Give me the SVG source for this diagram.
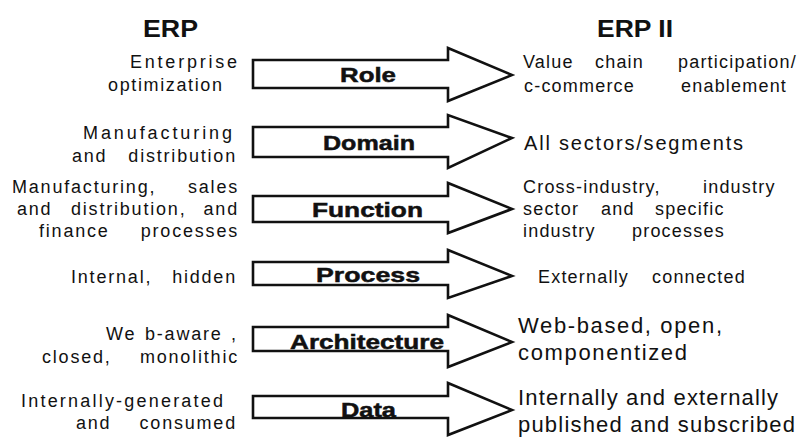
<svg xmlns="http://www.w3.org/2000/svg" width="803" height="437" viewBox="0 0 803 437">
<defs>
<style>
.bg{fill:#fff}
.arrow{fill:#fff;stroke:#111;stroke-width:2.6;stroke-linejoin:miter}
.lbl{font-family:"Liberation Sans",Arial,sans-serif;font-weight:bold;font-size:21px;fill:#111;stroke:#111;stroke-width:0.5}
.hdr{font-family:"Liberation Sans",Arial,sans-serif;font-weight:bold;font-size:23px;fill:#111}
.t{font-family:"Liberation Sans",Arial,sans-serif;font-size:18px;fill:#111}
.l{letter-spacing:1.8px}
.r{letter-spacing:1.2px}
.e{text-anchor:end}
.t2{font-family:"Liberation Sans",Arial,sans-serif;font-size:20px;fill:#111}
.t3{font-family:"Liberation Sans",Arial,sans-serif;font-size:22px;fill:#111}
</style>
</defs>
<rect class="bg" x="0" y="0" width="803" height="437"/>
<g id="headers">
<text class="hdr" x="143" y="37" textLength="55" lengthAdjust="spacingAndGlyphs">ERP</text>
<text class="hdr" x="597" y="37" textLength="76" lengthAdjust="spacingAndGlyphs">ERP II</text>
</g>
<g id="connectors">
<polygon class="arrow" points="253,60 448,60 448,48 512,75 448,101 448,88 253,88"/>
<polygon class="arrow" points="253,127 448,127 448,115 512,138 448,168 448,157 253,157"/>
<polygon class="arrow" points="253,196 448,196 448,183 512,209 448,233 448,222 253,222"/>
<polygon class="arrow" points="253,262 448,262 448,250 512,276 448,298 448,285 253,285"/>
<polygon class="arrow" points="253,327 448,327 448,315 512,342 448,367 448,351 253,351"/>
<polygon class="arrow" points="253,396 448,396 448,383 512,410 448,435 448,418 253,418"/>
</g>
<g id="node-role">
<text class="t" x="130" y="68" textLength="107" lengthAdjust="spacing">Enterprise</text>
<text class="t" x="108" y="91" textLength="114" lengthAdjust="spacing">optimization</text>
<text class="lbl" x="340" y="82" textLength="56" lengthAdjust="spacingAndGlyphs">Role</text>
<text class="t r" y="68"><tspan x="523">Value</tspan> <tspan x="595">chain</tspan> <tspan x="678">participation/</tspan></text>
<text class="t r" y="92"><tspan x="524">c-commerce</tspan> <tspan x="681">enablement</tspan></text>
</g>
<g id="node-domain">
<text class="t" x="83" y="139" textLength="149" lengthAdjust="spacing">Manufacturing</text>
<text class="t l" y="162"><tspan x="72">and</tspan> <tspan class="e" x="237">distribution</tspan></text>
<text class="lbl" x="323" y="150" textLength="92" lengthAdjust="spacingAndGlyphs">Domain</text>
<text class="t2" x="524" y="150" textLength="219" lengthAdjust="spacing">All sectors/segments</text>
</g>
<g id="node-function">
<text class="t l" y="193"><tspan x="12">Manufacturing,</tspan> <tspan class="e" x="239">sales</tspan></text>
<text class="t l" y="215"><tspan x="17">and</tspan> <tspan x="71">distribution,</tspan> <tspan class="e" x="239">and</tspan></text>
<text class="t l" y="237"><tspan x="39">finance</tspan> <tspan class="e" x="239">processes</tspan></text>
<text class="lbl" x="312" y="217" textLength="111" lengthAdjust="spacingAndGlyphs">Function</text>
<text class="t r" y="193"><tspan x="523">Cross-industry,</tspan> <tspan x="703">industry</tspan></text>
<text class="t r" y="215"><tspan x="523">sector</tspan> <tspan x="601">and</tspan> <tspan x="655">specific</tspan></text>
<text class="t r" y="237"><tspan x="523">industry</tspan> <tspan x="632">processes</tspan></text>
</g>
<g id="node-process">
<text class="t l" y="283"><tspan x="71">Internal,</tspan> <tspan class="e" x="237">hidden</tspan></text>
<text class="lbl" x="316" y="282" textLength="104" lengthAdjust="spacingAndGlyphs">Process</text>
<text class="t r" y="283"><tspan x="538">Externally</tspan> <tspan x="652">connected</tspan></text>
</g>
<g id="node-architecture">
<text class="t l" y="340"><tspan x="106">We</tspan> <tspan x="145">b-aware</tspan> <tspan x="231">,</tspan></text>
<text class="t l" y="363"><tspan x="42">closed,</tspan> <tspan class="e" x="239">monolithic</tspan></text>
<text class="lbl" x="290" y="349" textLength="154" lengthAdjust="spacingAndGlyphs">Architecture</text>
<text class="t3" x="518" y="333" textLength="204" lengthAdjust="spacing">Web-based, open,</text>
<text class="t3" x="518" y="360" textLength="169" lengthAdjust="spacing">componentized</text>
</g>
<g id="node-data">
<text class="t" x="21" y="407" textLength="202" lengthAdjust="spacing">Internally-generated</text>
<text class="t l" y="429"><tspan x="76">and</tspan> <tspan class="e" x="237">consumed</tspan></text>
<text class="lbl" x="341" y="417" textLength="55" lengthAdjust="spacingAndGlyphs">Data</text>
<text class="t3" x="518" y="405" textLength="260" lengthAdjust="spacing">Internally and externally</text>
<text class="t3" x="518" y="432" textLength="277" lengthAdjust="spacing">published and subscribed</text>
</g>
</svg>
